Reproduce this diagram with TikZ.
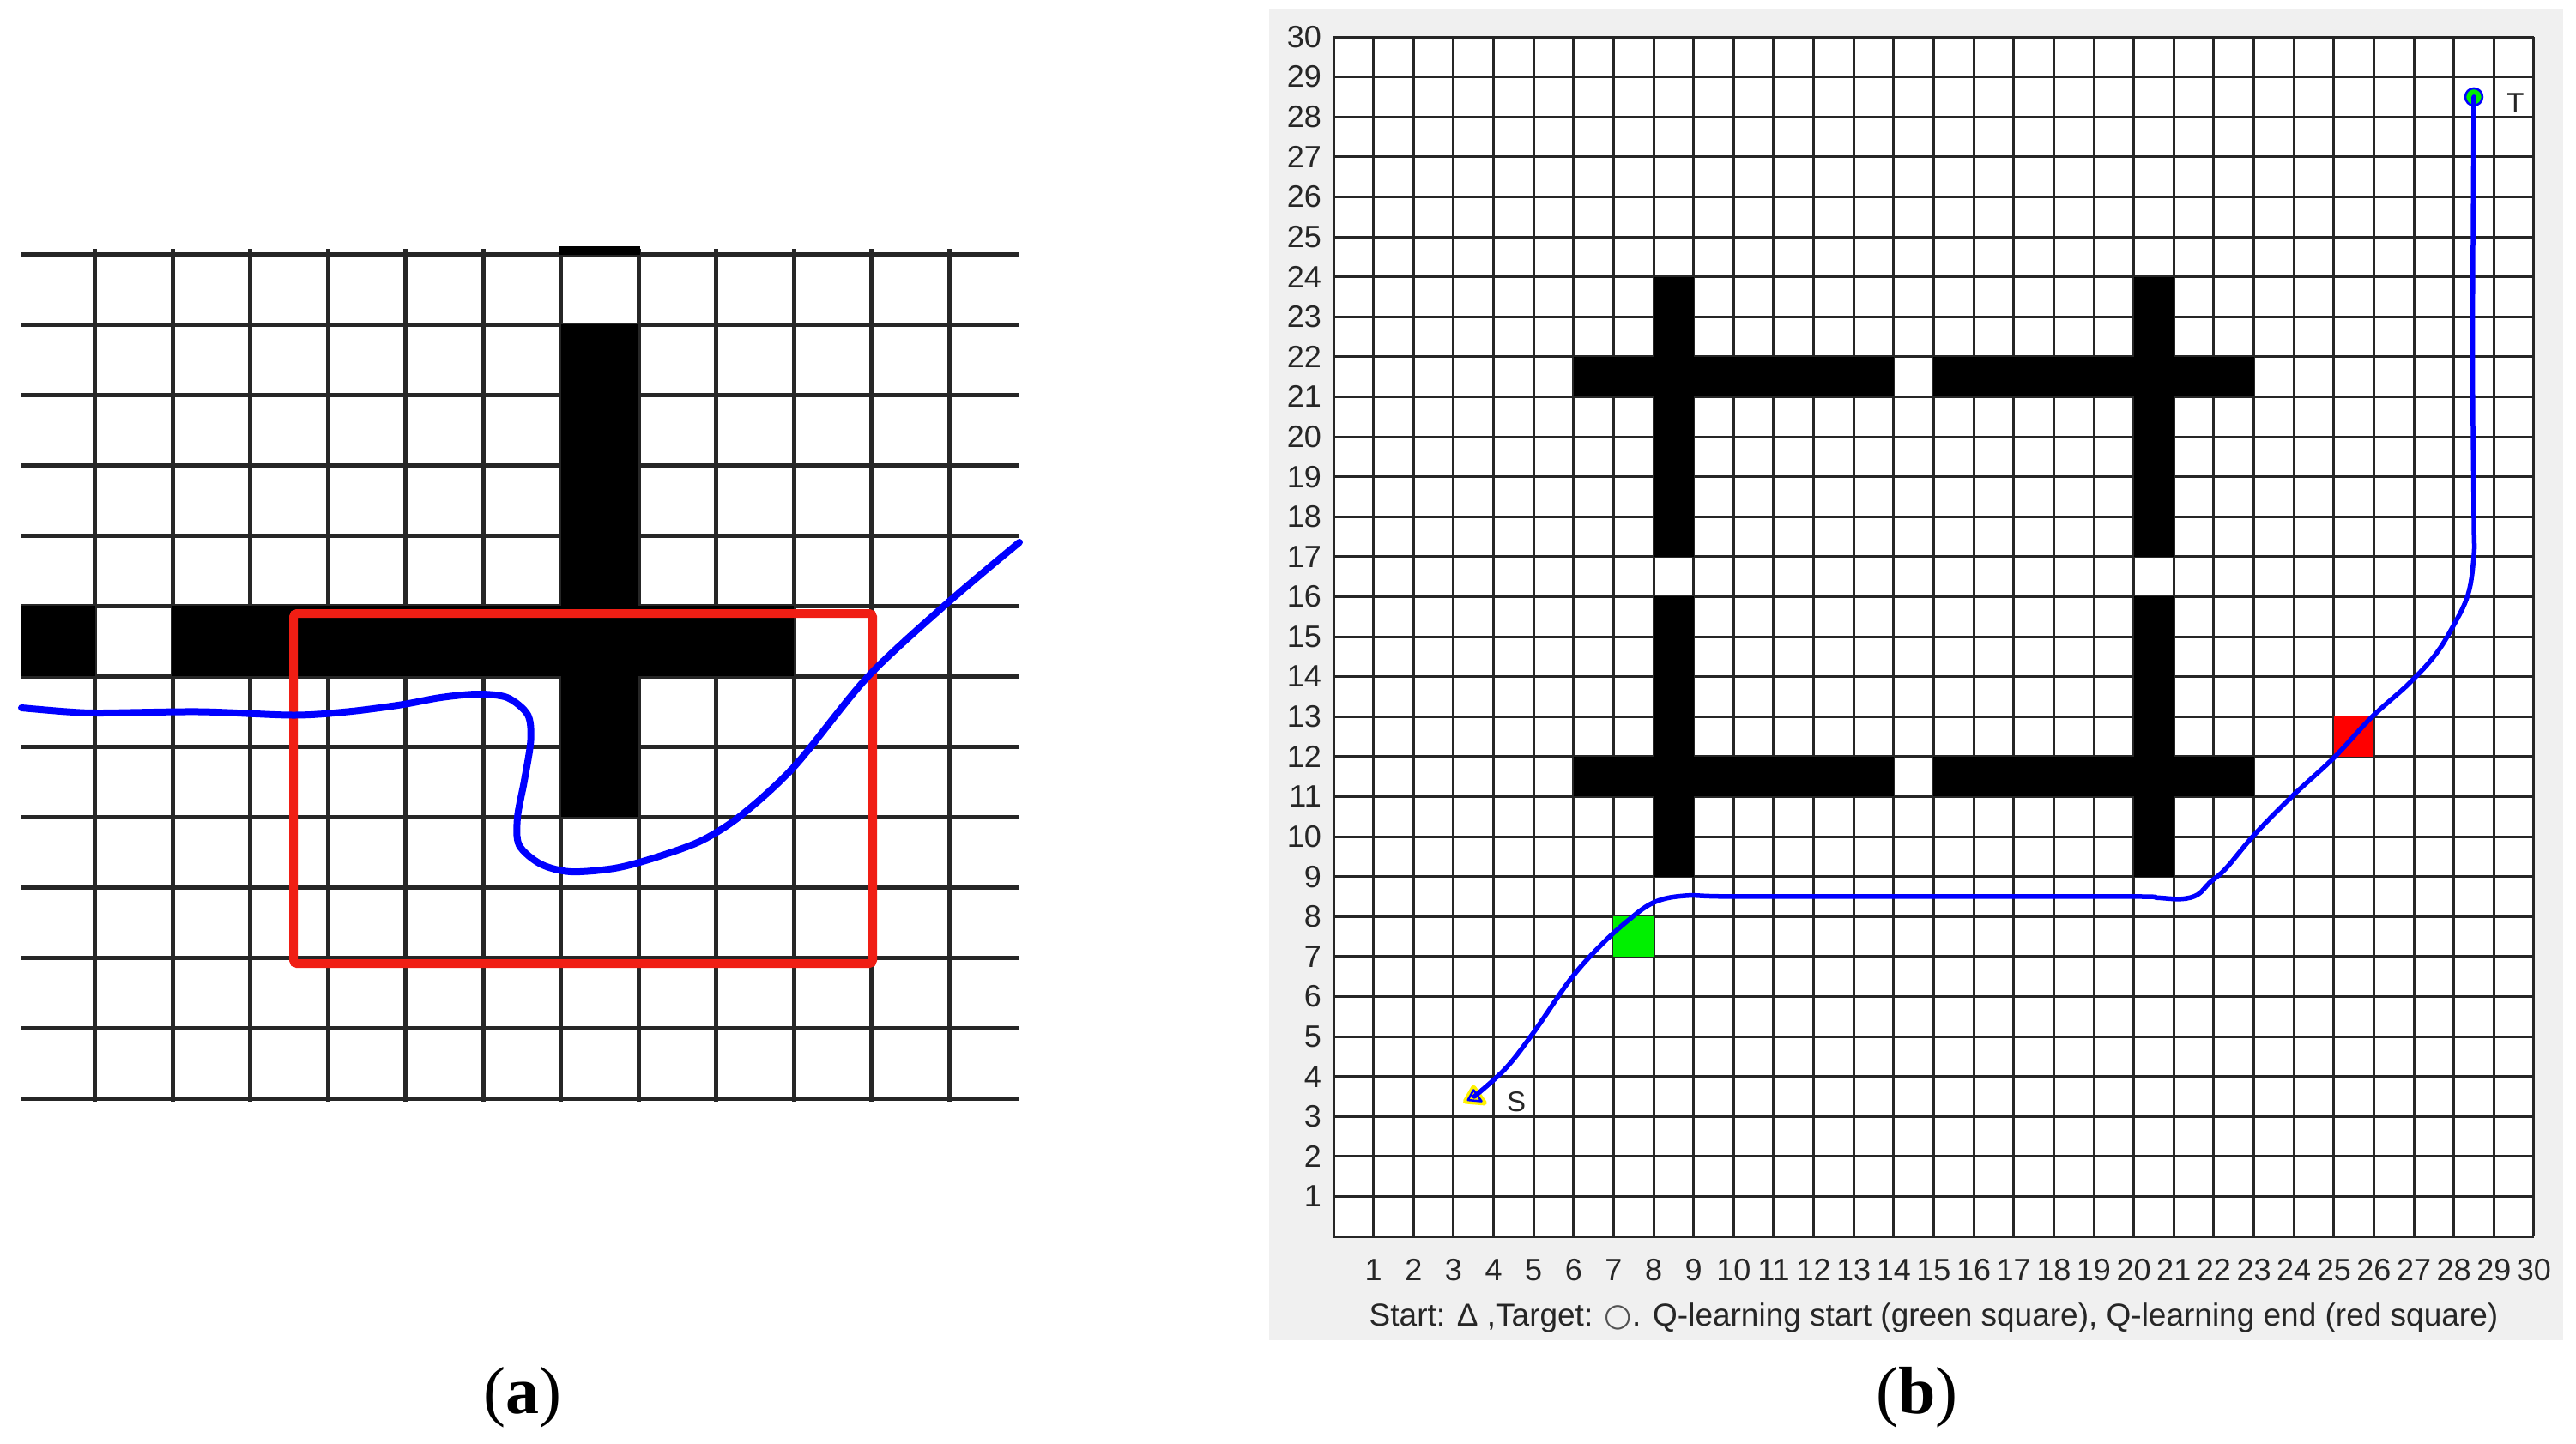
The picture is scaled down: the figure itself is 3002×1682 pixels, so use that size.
\documentclass[tikz,border=0pt]{standalone}
\usepackage{fontspec}
\setmainfont{Liberation Serif}
\newfontfamily\axisfont{Liberation Sans}
\newfontfamily\symbfont{DejaVu Sans}
\definecolor{mblue}{RGB}{0,0,255}
\definecolor{mred}{RGB}{240,30,20}
\definecolor{panelgray}{RGB}{240,240,240}
\definecolor{gridcol}{RGB}{38,38,38}
\definecolor{mgreen}{RGB}{0,240,0}
\tikzset{
  gridA/.style={line width=5pt, draw=gridcol},
  gridB/.style={line width=3pt, draw=gridcol},
  obst/.style={fill=black},
  bluepath/.style={draw=mblue, line width=#1, line cap=round, line join=round},
  redbox/.style={draw=mred, line width=10pt, rounded corners=4pt},
  ticklab/.style={font=\axisfont\fontsize{36}{40}\selectfont, text=gridcol, inner sep=0pt},
  smalllab/.style={font=\axisfont\fontsize{33}{38}\selectfont, text=gridcol, inner sep=0pt},
  caplab/.style={font=\axisfont\fontsize{37}{42}\selectfont, text=gridcol, inner sep=0pt},
  panellab/.style={font=\fontsize{78}{90}\selectfont, inner sep=0pt}
}
\begin{document}
\begin{tikzpicture}[x=1pt,y=-1pt]
\useasboundingbox (0,0) rectangle (3002,1682);
\fill[white] (0,0) rectangle (3002,1682);

% ---------------- panel (a) ----------------
\begin{scope}[shift={(110.5,296)}, x=90.5pt, y=-82pt]
  \foreach \j in {0,...,12} \draw[gridA] (-0.945,\j) -- (11.9,\j);
  \foreach \k in {0,...,11} \draw[gridA] (\k,-0.07) -- (\k,12.05);
  \fill[obst] (-0.945,5) rectangle (0,6);
  \fill[obst] (1,5) rectangle (9,6);
  \fill[obst] (6,1) rectangle (7,8);
  \fill[obst] (5.98,-0.11) rectangle (7.02,0.012);
\end{scope}
\draw[redbox] (342,715) rectangle (1017,1123);
\draw[bluepath=8pt] plot[smooth, tension=0.5] coordinates {
  (25,825) (78,829.5) (117,831) (233,829.5) (342,833.5) (405,829.5)
  (467,821.5) (513.5,813) (556,809) (591,813) (615,833) (618.5,863)
  (611,910) (603,953) (605,985) (630,1007) (665,1016) (716,1012)
  (762,1000) (817,980) (864,950) (926,893) (1011,789) (1105,702) (1188,632)};
\node[panellab] (laba) at (609,1629) {(\textbf{a})};

% ---------------- panel (b) ----------------
\fill[panelgray] (1479,10) rectangle (2987,1562);
\begin{scope}[shift={(1554,1441)}, x=46.63pt, y=46.6pt]
  \fill[white] (0,0) rectangle (30,30);
  \foreach \i in {0,...,30} {
    \draw[gridB] (\i,0) -- (\i,30);
    \draw[gridB] (0,\i) -- (30,\i);
  }
  % obstacles
  \fill[obst] (8,17) rectangle (9,24);
  \fill[obst] (8,9) rectangle (9,16);
  \fill[obst] (20,17) rectangle (21,24);
  \fill[obst] (20,9) rectangle (21,16);
  \fill[obst] (6,21) rectangle (14,22);
  \fill[obst] (15,21) rectangle (23,22);
  \fill[obst] (6,11) rectangle (14,12);
  \fill[obst] (15,11) rectangle (23,12);
  % Q-learning squares
  \fill[mgreen] (7,7) rectangle (8,8);
  \fill[red] (25,12) rectangle (26,13);
  % target marker
  \filldraw[fill=mgreen, draw=mblue, line width=2.5pt] (28.5,28.5) circle[radius=10pt];
  % start marker
  \filldraw[fill=yellow, draw=yellow, line width=6pt, line join=round]
    (3.5,3.72) -- (3.3,3.38) -- (3.77,3.34) -- cycle;
  \draw[draw=mblue, line width=2.5pt, line join=round]
    (3.5,3.66) -- (3.36,3.41) -- (3.7,3.38) -- cycle;
  % path
  \draw[bluepath=5.5pt] plot[smooth, tension=0.6] coordinates {
    (3.52,3.5) (4.3,4.2) (5.0,5.1) (5.9,6.4) (6.6,7.2) (7.3,7.85)
    (8.0,8.35) (8.8,8.52) (10,8.5) (15,8.5)
    (19.97,8.5) (20.6,8.47) (21.2,8.44) (21.6,8.55) (21.9,8.85) (22.3,9.2)
    (23.0,10.03) (23.95,11.0) (25.0,11.97) (25.94,12.98) (26.85,13.8)
    (27.5,14.5) (27.93,15.17) (28.35,16.04) (28.5,17.03) (28.5,18.0)
    (28.47,22.2) (28.5,28.5)};
  % labels
  \node[smalllab] (slab) at (4.57,3.37) {S};
  \node[smalllab] (tlab) at (29.54,28.34) {T};
  \foreach \i in {1,...,30} {
    \node[ticklab] (xt\i) at (\i,-0.837) {\i};
    \node[ticklab, anchor=east] (yt\i) at (-0.3,\i) {\i};
  }
\end{scope}
\node[caplab, anchor=base] (caption) at (2253.5,1545)
  {Start: Δ ,Target: {\symbfont\color{gridcol!80}○}. Q-learning start (green square), Q-learning end (red square)};
\node[panellab] (labb) at (2234,1629) {(\textbf{b})};
\end{tikzpicture}
\end{document}
